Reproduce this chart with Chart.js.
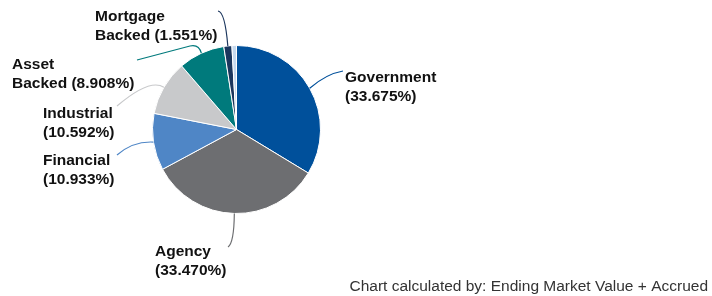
<!DOCTYPE html>
<html>
<head>
<meta charset="utf-8">
<script src="https://cdn.jsdelivr.net/npm/chart.js@4"></script>
<style>
html,body{margin:0;padding:0;background:#fff;}
#wrap{position:relative;width:712px;height:296px;}
</style>
</head>
<body>
<div id="wrap"><canvas id="c" width="712" height="296"></canvas></div>
<script>
// ---- data ----
const categories = ["Government", "Agency", "Financial", "Industrial", "Asset Backed", "Mortgage Backed", "Other"];
const values = [33.675, 33.470, 10.933, 10.592, 8.908, 1.551, 0.871];
const labelLines = [
  ["Government", "(33.675%)"],
  ["Agency", "(33.470%)"],
  ["Financial", "(10.933%)"],
  ["Industrial", "(10.592%)"],
  ["Asset", "Backed (8.908%)"],
  ["Mortgage", "Backed (1.551%)"],
  null
];
const footerText = "Chart calculated by: Ending Market Value + Accrued";

// ---- styles / layout ----
const colors = ["#00509b", "#6d6e71", "#4f86c6", "#c8c9cb", "#007a7c", "#1b365d", "#c6d9ee"];
// label anchor (left x, first baseline y) and leader path (control point, end point, optional extra point)
const labelLayout = [
  {x: 345, y: 82, ctrl: [326, 74], end: [343, 71]},
  {x: 155, y: 256, ctrl: [234, 243], end: [228, 247]},
  {x: 43, y: 165, ctrl: [133, 141], end: [117, 155]},
  {x: 43, y: 118, ctrl: [150, 78], end: [117, 106]},
  {x: 12, y: 69, ctrl: [199, 44], end: [190, 46], extra: [137, 60]},
  {x: 95, y: 21, ctrl: [225, 12], end: [218, 11]},
  null
];

const labelPlugin = {
  id: 'pieLabels',
  afterDraw(chart) {
    const ctx = chart.ctx;
    const meta = chart.getDatasetMeta(0);
    ctx.save();
    meta.data.forEach((arc, i) => {
      const lay = labelLayout[i];
      if (!lay) return;
      const p = arc.getProps(['x', 'y', 'startAngle', 'endAngle', 'outerRadius'], true);
      const mid = (p.startAngle + p.endAngle) / 2;
      const sx = p.x + Math.cos(mid) * p.outerRadius;
      const sy = p.y + Math.sin(mid) * p.outerRadius;
      ctx.beginPath();
      ctx.moveTo(sx, sy);
      ctx.quadraticCurveTo(lay.ctrl[0], lay.ctrl[1], lay.end[0], lay.end[1]);
      if (lay.extra) ctx.lineTo(lay.extra[0], lay.extra[1]);
      ctx.strokeStyle = colors[i];
      ctx.lineWidth = 1.2;
      ctx.stroke();
      ctx.fillStyle = "#111";
      ctx.font = "bold 15.5px 'Liberation Sans', Arial, sans-serif";
      ctx.textAlign = "left";
      ctx.textBaseline = "alphabetic";
      labelLines[i].forEach((t, k) => ctx.fillText(t, lay.x, lay.y + k * 19));
    });
    ctx.font = "15.5px 'Liberation Sans', Arial, sans-serif";
    ctx.fillStyle = "#333";
    ctx.textAlign = "right";
    ctx.fillText(footerText, 708, 291);
    ctx.restore();
  }
};

new Chart(document.getElementById('c'), {
  type: 'pie',
  data: {
    labels: categories,
    datasets: [{
      data: values,
      backgroundColor: colors,
      borderColor: "#ffffff",
      borderWidth: 1
    }]
  },
  options: {
    responsive: false,
    animation: false,
    layout: {padding: {left: 152, right: 391, top: 45, bottom: 82}},
    plugins: {legend: {display: false}, tooltip: {enabled: false}},
  },
  plugins: [labelPlugin]
});
</script>
</body>
</html>
